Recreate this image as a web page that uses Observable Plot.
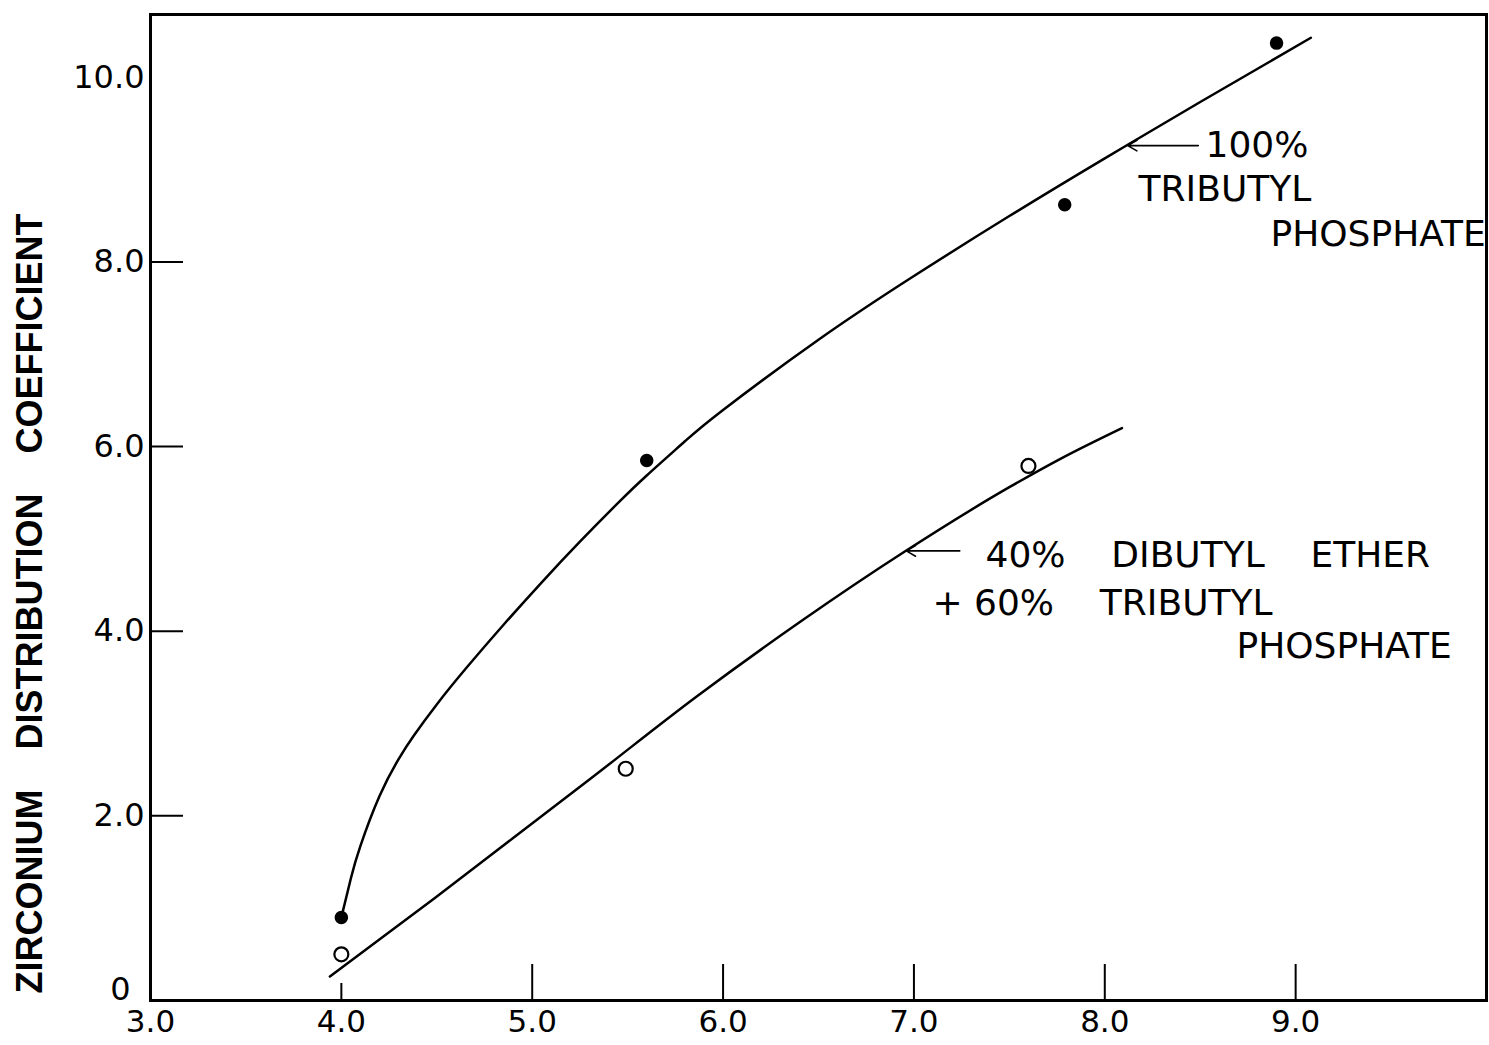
<!DOCTYPE html>
<html>
<head>
<meta charset="utf-8">
<script src="https://cdn.jsdelivr.net/npm/d3@7"></script>
<script src="https://cdn.jsdelivr.net/npm/@observablehq/plot@0.6"></script>
<style>
  html, body { margin: 0; padding: 0; background: #fff; }
  svg text { white-space: pre; }
</style>
</head>
<body>
<div id="chart"></div>
<script>
// ---- data ----
const xTickValues = [3, 4, 5, 6, 7, 8, 9];
const yTickValues = [2, 4, 6, 8, 10];
const yZeroTick = [0];
const xTickMarksLong = [5, 6, 7, 8, 9];
const xTickMarksShort = [4];
const yTickMarks = [2, 4, 6, 8];

// 100% tributyl phosphate — measured points (filled)
const tbpX = [4.0, 5.6, 7.79, 8.9];
const tbpY = [0.90, 5.85, 8.62, 10.37];
// 100% TBP — drawn curve
const tbpCurveX = [4.00, 4.05, 4.10, 4.20, 4.30, 4.38, 4.50, 4.65, 4.85, 5.05, 5.25, 5.45, 5.60, 5.80, 6.00, 6.50, 7.00, 7.50, 8.00, 8.50, 9.08];
const tbpCurveY = [0.90, 1.325, 1.675, 2.215, 2.615, 2.871, 3.207, 3.59, 4.07, 4.53, 4.97, 5.39, 5.687, 6.057, 6.397, 7.157, 7.847, 8.497, 9.122, 9.732, 10.428];

// 40% dibutyl ether + 60% TBP — measured points (open)
const mixX = [4.0, 5.49, 7.6];
const mixY = [0.50, 2.51, 5.79];
// mixture — drawn curve
const mixCurveX = [3.94, 4.49, 4.90, 5.31, 5.86, 6.41, 6.95, 7.50, 7.77, 8.09];
const mixCurveY = [0.26, 1.11, 1.76, 2.41, 3.29, 4.11, 4.86, 5.56, 5.87, 6.20];

// annotations
const labelText = ["100%", "TRIBUTYL", "PHOSPHATE", "40%    DIBUTYL    ETHER", "+ 60%    TRIBUTYL", "PHOSPHATE"];
const labelX = [8.528, 8.177, 8.868, 7.375, 7.097, 8.69];
const labelY = [9.26, 8.78, 8.30, 4.82, 4.30, 3.84];
const arrowX1 = [8.49, 7.24];
const arrowX2 = [8.12, 6.96];
const arrowY = [9.26, 4.87];
const yTitle = "ZIRCONIUM    DISTRIBUTION    COEFFICIENT";
const yTitleY = 4.30;

// ---- build tables ----
const tbpPts = tbpX.map((x, i) => ({x, y: tbpY[i]}));
const tbpLine = tbpCurveX.map((x, i) => ({x, y: tbpCurveY[i]}));
const mixPts = mixX.map((x, i) => ({x, y: mixY[i]}));
const mixLine = mixCurveX.map((x, i) => ({x, y: mixCurveY[i]}));
const labels = labelText.map((t, i) => ({t, x: labelX[i], y: labelY[i]}));
const arrows = arrowX1.map((x1, i) => ({x1, x2: arrowX2[i], y: arrowY[i]}));

const W = 1489, H = 1045, mL = 150, mR = 3, mT = 14, mB = 45;
const plotW = W - mL - mR, plotH = H - mT - mB;

const chart = Plot.plot({
  width: W,
  height: H,
  marginLeft: mL,
  marginRight: mR,
  marginTop: mT,
  marginBottom: mB,
  style: {fontFamily: "DejaVu Sans", fontSize: "32px", background: "white", color: "black"},
  x: {domain: [3, 10]},
  y: {domain: [0, 10.68]},
  marks: [
    Plot.axisX(xTickValues, {tickSize: 0, tickPadding: 9, fontSize: 31, tickFormat: d => d.toFixed(1), label: null}),
    Plot.axisY(yTickValues, {tickSize: 0, tickPadding: 6, fontSize: 32, tickFormat: d => d.toFixed(1), label: null}),
    Plot.axisY(yZeroTick, {tickSize: 0, tickPadding: 20, fontSize: 32, dy: -11, tickFormat: d => String(d), label: null}),
    Plot.ruleX(xTickMarksLong, {insetTop: plotH - 36, stroke: "black", strokeWidth: 2}),
    Plot.ruleX(xTickMarksShort, {insetTop: plotH - 17, stroke: "black", strokeWidth: 2}),
    Plot.ruleY(yTickMarks, {insetRight: plotW - 33, stroke: "black", strokeWidth: 2}),
    Plot.line(tbpLine, {x: "x", y: "y", curve: "natural", stroke: "black", strokeWidth: 2.5}),
    Plot.line(mixLine, {x: "x", y: "y", curve: "monotone-x", stroke: "black", strokeWidth: 2.5}),
    Plot.dot(tbpPts, {x: "x", y: "y", r: 6, fill: "black", stroke: "black"}),
    Plot.dot(mixPts, {x: "x", y: "y", r: 7, fill: "white", stroke: "black", strokeWidth: 2.2}),
    Plot.arrow(arrows, {x1: "x1", x2: "x2", y1: "y", y2: "y", stroke: "black", strokeWidth: 1.6, headLength: 10}),
    Plot.text(labels, {x: "x", y: "y", text: "t", textAnchor: "start", lineAnchor: "middle", fontSize: 36, fontFamily: "DejaVu Sans", fill: "black"}),
    Plot.text([yTitle], {text: d => d, frameAnchor: "left", textAnchor: "middle", lineAnchor: "middle", y: yTitleY, dx: -120, rotate: -90, fontSize: 36, fontWeight: "bold", fontFamily: "Liberation Sans", fill: "black"}),
    Plot.frame({stroke: "black", strokeWidth: 3})
  ]
});
document.getElementById("chart").appendChild(chart);
</script>
</body>
</html>
